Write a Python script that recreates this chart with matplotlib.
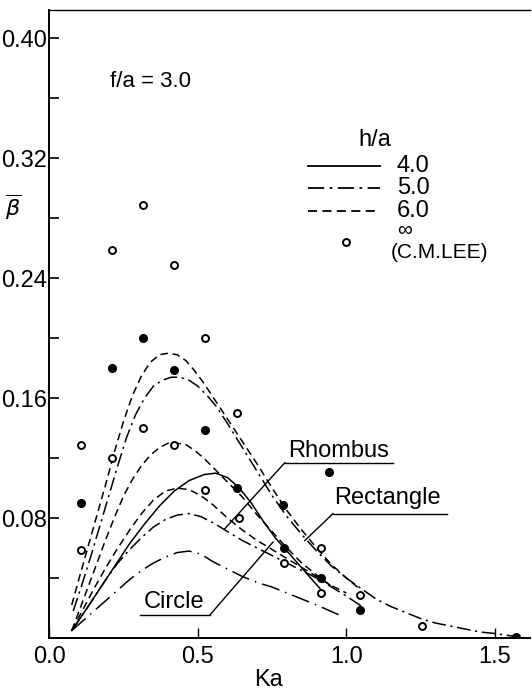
import matplotlib
matplotlib.use("Agg")
import matplotlib.pyplot as plt

plt.rcParams['font.family'] = ['Liberation Sans', 'DejaVu Sans']

# ---- data ----
open_x = [0.105, 0.105, 0.21, 0.21, 0.315, 0.315, 0.42, 0.42, 0.525, 0.525, 0.63, 0.64,
          0.79, 0.915, 0.915, 1.045, 1.255]
open_y = [0.059, 0.129, 0.259, 0.120, 0.140, 0.289, 0.249, 0.129, 0.200, 0.099, 0.150, 0.080,
          0.050, 0.060, 0.030, 0.029, 0.008]
fill_x = [0.105, 0.21, 0.315, 0.42, 0.525, 0.63, 0.94, 0.785, 0.79, 0.915, 1.045, 1.57]
fill_y = [0.090, 0.180, 0.200, 0.179, 0.139, 0.100, 0.111, 0.089, 0.060, 0.040, 0.019, 0.001]

c1_x = [0.075, 0.10, 0.13, 0.16, 0.19, 0.22, 0.25, 0.28, 0.31, 0.34, 0.37, 0.40, 0.43, 0.46,
        0.49, 0.52, 0.55, 0.6, 0.65, 0.7, 0.75, 0.8, 0.85, 0.9, 0.95, 1.0, 1.05]
c1_y = [0.022, 0.040, 0.061, 0.082, 0.103, 0.125, 0.145, 0.162, 0.175, 0.184, 0.189, 0.190,
        0.189, 0.185, 0.178, 0.170, 0.161, 0.146, 0.131, 0.116, 0.100, 0.085, 0.072, 0.060,
        0.049, 0.040, 0.032]

c2_x = [0.08, 0.11, 0.14, 0.17, 0.2, 0.23, 0.26, 0.29, 0.32, 0.35, 0.38, 0.41, 0.44, 0.47,
        0.5, 0.53, 0.56, 0.6, 0.65, 0.7, 0.75, 0.8, 0.85, 0.9, 0.95, 1.0, 1.05, 1.1, 1.15,
        1.2, 1.25, 1.3, 1.35, 1.4, 1.45, 1.5, 1.57]
c2_y = [0.018, 0.036, 0.055, 0.075, 0.095, 0.115, 0.134, 0.149, 0.160, 0.168, 0.172, 0.174,
        0.174, 0.172, 0.168, 0.162, 0.155, 0.143, 0.127, 0.111, 0.095, 0.081, 0.069, 0.058,
        0.048, 0.040, 0.033, 0.026, 0.021, 0.017, 0.013, 0.010, 0.008, 0.006, 0.004, 0.003,
        0.001]

c3_x = [0.075, 0.1, 0.13, 0.16, 0.19, 0.22, 0.25, 0.28, 0.31, 0.34, 0.37, 0.40, 0.43, 0.46,
        0.49, 0.52, 0.56, 0.6, 0.65, 0.7, 0.75, 0.8, 0.85, 0.9, 0.96]
c3_y = [0.005, 0.018, 0.034, 0.050, 0.066, 0.081, 0.095, 0.106, 0.115, 0.122, 0.127, 0.130,
        0.130, 0.129, 0.125, 0.120, 0.112, 0.104, 0.094, 0.082, 0.071, 0.060, 0.050, 0.042,
        0.033]

c4_x = [0.075, 0.12, 0.17, 0.22, 0.27, 0.32, 0.37, 0.42, 0.47, 0.52, 0.56, 0.6, 0.64, 0.68,
        0.72, 0.76, 0.8, 0.84, 0.88, 0.92]
c4_y = [0.005, 0.018, 0.033, 0.048, 0.063, 0.076, 0.088, 0.098, 0.105, 0.109, 0.110, 0.107,
        0.100, 0.090, 0.078, 0.067, 0.058, 0.049, 0.040, 0.031]

c5_x = [0.075, 0.11, 0.15, 0.19, 0.23, 0.27, 0.31, 0.35, 0.39, 0.43, 0.47, 0.51, 0.55, 0.6,
        0.65, 0.7, 0.75, 0.8, 0.85, 0.9, 0.95, 1.0]
c5_y = [0.005, 0.018, 0.033, 0.047, 0.060, 0.072, 0.083, 0.092, 0.098, 0.100, 0.099, 0.095,
        0.089, 0.080, 0.072, 0.065, 0.059, 0.053, 0.047, 0.041, 0.035, 0.030]

c6_x = [0.075, 0.11, 0.15, 0.19, 0.23, 0.27, 0.31, 0.35, 0.39, 0.43, 0.47, 0.51, 0.55, 0.6,
        0.65, 0.7, 0.75, 0.8, 0.85, 0.9, 0.95, 1.0, 1.06]
c6_y = [0.005, 0.015, 0.027, 0.039, 0.050, 0.059, 0.067, 0.074, 0.079, 0.082, 0.083, 0.081,
        0.077, 0.071, 0.065, 0.060, 0.055, 0.050, 0.045, 0.040, 0.034, 0.028, 0.020]

c7_x = [0.075, 0.11, 0.15, 0.19, 0.23, 0.27, 0.31, 0.35, 0.39, 0.43, 0.47, 0.51, 0.55, 0.6,
        0.65, 0.7, 0.75, 0.8, 0.85, 0.9, 0.98]
c7_y = [0.005, 0.011, 0.018, 0.025, 0.032, 0.039, 0.045, 0.050, 0.054, 0.057, 0.058, 0.056,
        0.051, 0.046, 0.041, 0.037, 0.034, 0.030, 0.026, 0.022, 0.015]

x_ticks = [0.0, 0.5, 1.0, 1.5]
x_ticklabels = ['0.0', '0.5', '1.0', '1.5']
y_ticks = [0.08, 0.16, 0.24, 0.32, 0.40]
y_ticklabels = ['0.08', '0.16', '0.24', '0.32', '0.40']
y_minor = [0.04, 0.12, 0.20, 0.28, 0.36]
legend_labels = ['4.0', '5.0', '6.0']

# ---- styles ----
DASHED = (0, (5, 3))
DASHDOT = (0, (9, 3, 1.5, 3))
LONGDD = (0, (12, 4, 1, 4))
SOLID = '-'
lw = 1.1
k = 'black'

fig = plt.figure(figsize=(5.32, 6.91), dpi=100)
ax = fig.add_axes([0.093, 0.0767, 0.904, 0.9088])

for xs, ys, ls in [(c1_x, c1_y, DASHED), (c2_x, c2_y, DASHDOT), (c3_x, c3_y, DASHED),
                   (c4_x, c4_y, SOLID), (c5_x, c5_y, DASHED), (c6_x, c6_y, DASHDOT),
                   (c7_x, c7_y, LONGDD)]:
    ax.plot(xs, ys, color=k, lw=lw, linestyle=ls)

ax.plot(open_x, open_y, 'o', mfc='white', mec=k, mew=1.4, ms=5, linestyle='none', zorder=5)
ax.plot(fill_x, fill_y, 'o', mfc=k, mec=k, ms=5.5, linestyle='none', zorder=5)

ax.set_xlim(0, 1.62)
ax.set_ylim(0, 0.419)
ax.set_xticks(x_ticks)
ax.set_xticklabels(x_ticklabels)
ax.set_yticks(y_ticks)
ax.set_yticklabels(y_ticklabels)
ax.set_yticks(y_minor, minor=True)
ax.tick_params(axis='y', which='major', direction='in', length=7, width=1.2,
               labelsize=17, pad=2)
ax.tick_params(axis='y', which='minor', direction='in', length=7, width=1.2)
ax.tick_params(axis='x', which='major', direction='in', length=7, width=1.0,
               labelsize=17, pad=6)
ax.spines['right'].set_visible(False)
for s in ['left', 'bottom']:
    ax.spines[s].set_linewidth(1.4)
ax.spines['top'].set_linewidth(1.0)

ax.set_xlabel('Ka', fontsize=17)
ax.xaxis.set_label_coords(0.455, -0.05)
ax.text(-0.075, 0.686, r'$\overline{\beta}$', transform=ax.transAxes, fontsize=16,
        ha='center', va='center')

ax.text(0.339, 0.371, 'f/a = 3.0', fontsize=16, ha='center', va='center')

# legend drawn manually
ax.text(1.096, 0.332, 'h/a', fontsize=17, ha='center', va='center')
for yy, ls, lab in zip([0.315, 0.300, 0.285], [SOLID, DASHDOT, DASHED], legend_labels):
    ax.plot([0.87, 1.113], [yy, yy], color=k, lw=1.3, linestyle=ls)
    ax.text(1.17, yy, lab, fontsize=17, ha='left', va='center')
ax.plot([1.0], [0.264], 'o', mfc='white', mec=k, mew=1.4, ms=5)
ax.text(1.197, 0.272, '∞', fontsize=15, ha='center', va='center')
ax.text(1.315, 0.257, '(C.M.LEE)', fontsize=15, ha='center', va='center')

# shape annotations
ax.text(0.975, 0.1245, 'Rhombus', fontsize=17, ha='center', va='center')
ax.plot([0.793, 1.157], [0.117, 0.117], color=k, lw=1.0)
ax.plot([0.793, 0.591], [0.117, 0.073], color=k, lw=1.0)

ax.text(1.14, 0.0935, 'Rectangle', fontsize=17, ha='center', va='center')
ax.plot([0.955, 1.338], [0.083, 0.083], color=k, lw=1.0)
ax.plot([0.955, 0.86], [0.083, 0.065], color=k, lw=1.0)

ax.text(0.42, 0.024, 'Circle', fontsize=17, ha='center', va='center')
ax.plot([0.305, 0.54], [0.0153, 0.0153], color=k, lw=1.0)
ax.plot([0.54, 0.753], [0.0153, 0.064], color=k, lw=1.0)

fig.savefig('out.png', dpi=100)
